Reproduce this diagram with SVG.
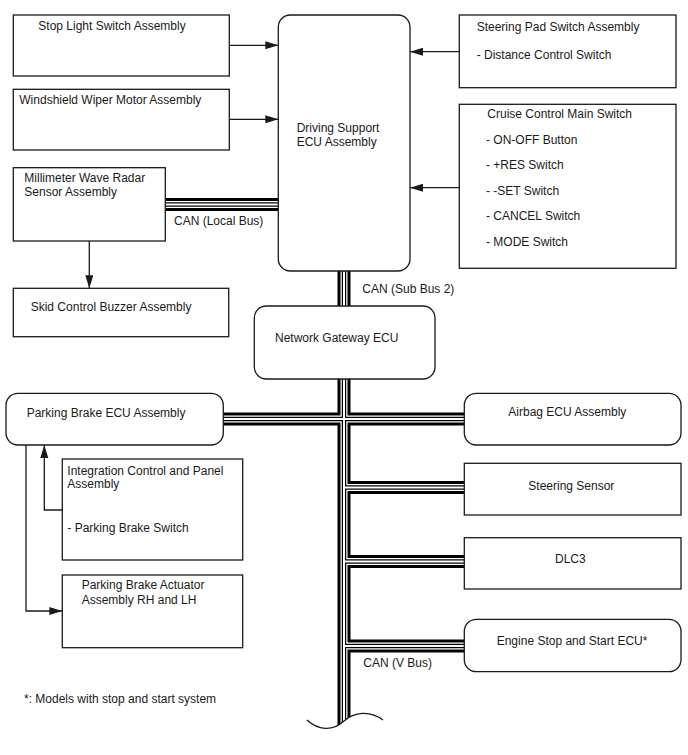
<svg xmlns="http://www.w3.org/2000/svg" xmlns:xlink="http://www.w3.org/1999/xlink" width="688" height="755" viewBox="0 0 688 755">
<style>
.box{fill:#fff;stroke:#1a1a1a;stroke-width:1.3}
.t{font-family:"Liberation Sans",Arial,sans-serif;font-size:12px;fill:#1a1a1a}
.arr{fill:none;stroke:#1a1a1a;stroke-width:1.3}
.b1{fill:none;stroke:#000;stroke-width:13}
.b2{fill:none;stroke:#fff;stroke-width:7}
.b3{fill:none;stroke:#000;stroke-width:4.5}
.b4{fill:none;stroke:#fff;stroke-width:2}
</style>
<defs>
<marker id="ah" markerUnits="userSpaceOnUse" markerWidth="14" markerHeight="9" refX="13" refY="4" orient="auto">
<path d="M0,0 L13,4 L0,8 Z" fill="#1a1a1a"/>
</marker>
<clipPath id="waveClip">
<path d="M280,370 H400 V720 H383 C370,710 354,712 344,721 C332,732 318,730 307,720 H280 Z"/>
</clipPath>
<g id="busGeom">
<path d="M165,204.5 H279"/>
<path d="M344,270 V307"/>
<path d="M344,378 V740" clip-path="url(#waveClip)"/>
<path d="M222,419 H465"/>
<path d="M344,487.5 H465"/>
<path d="M344,561.5 H465"/>
<path d="M344,646 H465"/>
</g>
</defs>
<rect width="688" height="755" fill="#fff"/>
<g id="connectors">
<use xlink:href="#busGeom" class="b1"/>
<use xlink:href="#busGeom" class="b2"/>
<use xlink:href="#busGeom" class="b3"/>
<use xlink:href="#busGeom" class="b4"/>
<path class="arr" d="M307,720 C318,730 332,732 344,721 C354,712 370,710 383,720"/>
<path class="arr" d="M229.3,45.3 H278.3" marker-end="url(#ah)"/>
<path class="arr" d="M229.3,119.3 H278.3" marker-end="url(#ah)"/>
<path class="arr" d="M459.3,51.7 H410" marker-end="url(#ah)"/>
<path class="arr" d="M459.3,187.7 H410" marker-end="url(#ah)"/>
<path class="arr" d="M89.3,241 V288.3" marker-end="url(#ah)"/>
<path class="arr" d="M62.3,510 H44.3 V445" marker-end="url(#ah)"/>
<path class="arr" d="M26,445 V611 H62.3" marker-end="url(#ah)"/>
<text class="t" x="174" y="224.5">CAN (Local Bus)</text>
<text class="t" x="362.3" y="293">CAN (Sub Bus 2)</text>
<text class="t" x="363.3" y="667">CAN (V Bus)</text>
</g>
<g id="stop-light">
<rect class="box" x="13.3" y="15" width="216" height="61"/>
<text class="t" x="38.3" y="30.3">Stop Light Switch Assembly</text>
</g>
<g id="wiper">
<rect class="box" x="13.3" y="89.3" width="216" height="60.7"/>
<text class="t" x="19.3" y="103.7">Windshield Wiper Motor Assembly</text>
</g>
<g id="radar">
<rect class="box" x="13.3" y="167.7" width="152" height="73.3"/>
<text class="t" x="24.3" y="182">Millimeter Wave Radar</text>
<text class="t" x="24.3" y="196">Sensor Assembly</text>
</g>
<g id="buzzer">
<rect class="box" x="13.3" y="288.3" width="215.4" height="48.4"/>
<text class="t" x="30.7" y="311.3">Skid Control Buzzer Assembly</text>
</g>
<g id="ds-ecu">
<rect class="box" x="278.3" y="15" width="131.7" height="256" rx="12"/>
<text class="t" x="296.7" y="132">Driving Support</text>
<text class="t" x="296.7" y="145.5">ECU Assembly</text>
</g>
<g id="steering-pad">
<rect class="box" x="459.3" y="15" width="216.7" height="72.7"/>
<text class="t" x="476.7" y="30.5">Steering Pad Switch Assembly</text>
<text class="t" x="476.7" y="59">- Distance Control Switch</text>
</g>
<g id="cruise">
<rect class="box" x="459.3" y="104.3" width="216.7" height="164"/>
<text class="t" x="487.3" y="118">Cruise Control Main Switch</text>
<text class="t" x="486" y="144">- ON-OFF Button</text>
<text class="t" x="486" y="169">- +RES Switch</text>
<text class="t" x="486" y="194.5">- -SET Switch</text>
<text class="t" x="486" y="220">- CANCEL Switch</text>
<text class="t" x="486" y="245.5">- MODE Switch</text>
</g>
<g id="gateway">
<rect class="box" x="254.3" y="306" width="180.7" height="73" rx="12"/>
<text class="t" x="275" y="341.7">Network Gateway ECU</text>
</g>
<g id="parking-ecu">
<rect class="box" x="6" y="393.3" width="217.3" height="51.7" rx="12"/>
<text class="t" x="26.7" y="416.5">Parking Brake ECU Assembly</text>
</g>
<g id="integration">
<rect class="box" x="62.3" y="459" width="180.4" height="101"/>
<text class="t" x="67.3" y="474.7">Integration Control and Panel</text>
<text class="t" x="67.3" y="488">Assembly</text>
<text class="t" x="67.3" y="532">- Parking Brake Switch</text>
</g>
<g id="actuator">
<rect class="box" x="62.3" y="575" width="180.4" height="72.7"/>
<text class="t" x="81.7" y="589">Parking Brake Actuator</text>
<text class="t" x="81.7" y="604">Assembly RH and LH</text>
</g>
<g id="airbag">
<rect class="box" x="464.3" y="393.3" width="216.7" height="51.7" rx="12"/>
<text class="t" x="508.3" y="416">Airbag ECU Assembly</text>
</g>
<g id="steering-sensor">
<rect class="box" x="464.3" y="463.3" width="216.7" height="51.7"/>
<text class="t" x="528.3" y="489.5">Steering Sensor</text>
</g>
<g id="dlc3">
<rect class="box" x="464.3" y="537.7" width="216.7" height="51.3"/>
<text class="t" x="555" y="563">DLC3</text>
</g>
<g id="engine-ecu">
<rect class="box" x="464.3" y="619.3" width="216.7" height="52.4" rx="12"/>
<text class="t" x="496.7" y="644.7">Engine Stop and Start ECU*</text>
</g>
<g id="footnote">
<text class="t" x="24" y="703">*: Models with stop and start system</text>
</g>
</svg>
